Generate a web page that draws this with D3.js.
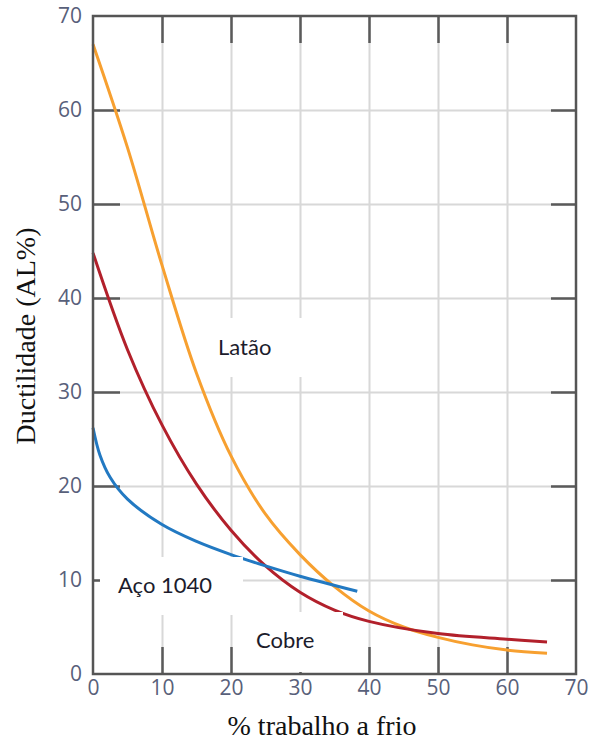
<!DOCTYPE html>
<html>
<head>
<meta charset="utf-8">
<script src="https://cdn.jsdelivr.net/npm/d3@7"></script>
<style>
  body { margin: 0; background: #fff; }
  .tick text { font-family: "Open Sans", sans-serif; font-size: 21px; fill: #58607a; }
</style>
</head>
<body>
<div class="tool"></div>
<script>
var width = 592, height = 742;

// % trabalho a frio vs ductilidade
var latao_x = [0, 5, 10, 15, 20, 25, 30, 35, 40, 45, 50, 55, 60, 65.8];
var latao_y = [67, 56, 43.5, 32, 23.2, 17.0, 12.7, 9.3, 6.7, 5.0, 3.9, 3.1, 2.55, 2.2];

var cobre_x = [0, 5, 10, 15, 20, 25, 30, 35, 40, 50, 60, 65.8];
var cobre_y = [44.8, 34.5, 26.5, 20.2, 15.3, 11.5, 8.7, 6.8, 5.6, 4.3, 3.7, 3.4];

var aco_x = [0, 1, 2.5, 5, 10, 15, 20, 25, 30, 38.3];
var aco_y = [26.2, 23.3, 20.9, 18.6, 15.9, 14.1, 12.7, 11.5, 10.4, 8.8];

var xTicks = [0, 10, 20, 30, 40, 50, 60, 70];
var yTicks = [0, 10, 20, 30, 40, 50, 60, 70];
var innerTicks = [10, 20, 30, 40, 50, 60];

var svg = d3.select(".tool")
    .append("svg")
    .attr("width", width)
    .attr("height", height);

var x = d3.scaleLinear().domain([0, 70]).range([93, 576]);
var y = d3.scaleLinear().domain([0, 70]).range([674, 16]);

var plotW = x(70) - x(0), plotH = y(0) - y(70);

// grid
svg.append("g")
    .attr("class", "grid")
    .attr("transform", "translate(0," + y(0) + ")")
    .call(d3.axisBottom(x).tickValues(innerTicks).tickSize(-plotH).tickFormat(""))
    .call(function(g) { g.select(".domain").remove(); })
    .selectAll("line").attr("stroke", "#d8d8d8").attr("stroke-width", 2);

svg.append("g")
    .attr("class", "grid")
    .attr("transform", "translate(" + x(0) + ",0)")
    .call(d3.axisLeft(y).tickValues(innerTicks).tickSize(-plotW).tickFormat(""))
    .call(function(g) { g.select(".domain").remove(); })
    .selectAll("line").attr("stroke", "#d8d8d8").attr("stroke-width", 2);

// inner ticks on the four sides
function innerAxis(axis, tx, ty, len) {
  svg.append("g")
      .attr("transform", "translate(" + tx + "," + ty + ")")
      .call(axis.tickValues(innerTicks).tickSize(len).tickFormat(""))
      .call(function(g) { g.select(".domain").remove(); })
      .selectAll("line").attr("stroke", "#5a5a5a").attr("stroke-width", 2.5);
}
innerAxis(d3.axisLeft(y), x(0), 0, -27);
innerAxis(d3.axisRight(y), x(70), 0, -25);
innerAxis(d3.axisTop(x), 0, y(0), 27);
innerAxis(d3.axisBottom(x), 0, y(70), 27);

// curves
var line = d3.line()
    .x(function(d) { return x(d[0]); })
    .y(function(d) { return y(d[1]); })
    .curve(d3.curveCatmullRom.alpha(0.5));

var series = [
  { xs: latao_x, ys: latao_y, color: "#f7a030" },
  { xs: cobre_x, ys: cobre_y, color: "#b2202b" },
  { xs: aco_x, ys: aco_y, color: "#2279c2" }
];

svg.selectAll("path.curve")
    .data(series)
    .enter().append("path")
    .attr("class", "curve")
    .attr("fill", "none")
    .attr("stroke", function(d) { return d.color; })
    .attr("stroke-width", 3)
    .attr("d", function(d) { return line(d3.zip(d.xs, d.ys)); });

// labels sit on white boxes that cut the grid
var labels = [
  { text: "Latão", box: [205, 318, 115, 59], tx: 218, ty: 355 },
  { text: "Aço 1040", box: [100, 557, 143, 58], tx: 118, ty: 593 },
  { text: "Cobre", box: [240, 612, 103, 60], tx: 256, ty: 648 }
];

svg.selectAll("rect.lbl")
    .data(labels)
    .enter().append("rect")
    .attr("class", "lbl")
    .attr("x", function(d) { return d.box[0]; })
    .attr("y", function(d) { return d.box[1]; })
    .attr("width", function(d) { return d.box[2]; })
    .attr("height", function(d) { return d.box[3]; })
    .attr("fill", "#fff");

svg.selectAll("text.lbl")
    .data(labels)
    .enter().append("text")
    .attr("class", "lbl")
    .attr("x", function(d) { return d.tx; })
    .attr("y", function(d) { return d.ty; })
    .attr("font-family", "Lato, sans-serif")
    .attr("font-size", 22)
    .attr("fill", "#1c1c2c")
    .text(function(d) { return d.text; });

// tick labels
svg.append("g")
    .attr("transform", "translate(0," + y(0) + ")")
    .call(d3.axisBottom(x).tickValues(xTicks).tickSize(0).tickPadding(6))
    .call(function(g) { g.select(".domain").remove(); });

svg.append("g")
    .attr("transform", "translate(" + x(0) + ",0)")
    .call(d3.axisLeft(y).tickValues(yTicks).tickSize(0).tickPadding(11))
    .call(function(g) { g.select(".domain").remove(); });

// frame
svg.append("rect")
    .attr("x", x(0))
    .attr("y", y(70))
    .attr("width", plotW)
    .attr("height", plotH)
    .attr("fill", "none")
    .attr("stroke", "#555")
    .attr("stroke-width", 2.5);

// axis titles
svg.append("text")
    .attr("x", 322)
    .attr("y", 735)
    .attr("text-anchor", "middle")
    .attr("font-family", "'Liberation Serif', 'Times New Roman', serif")
    .attr("font-size", 28)
    .attr("fill", "#111")
    .text("% trabalho a frio");

svg.append("text")
    .attr("transform", "translate(35,336) rotate(-90)")
    .attr("text-anchor", "middle")
    .attr("font-family", "'Liberation Serif', 'Times New Roman', serif")
    .attr("font-size", 28)
    .attr("fill", "#111")
    .text("Ductilidade (AL%)");
</script>
</body>
</html>
